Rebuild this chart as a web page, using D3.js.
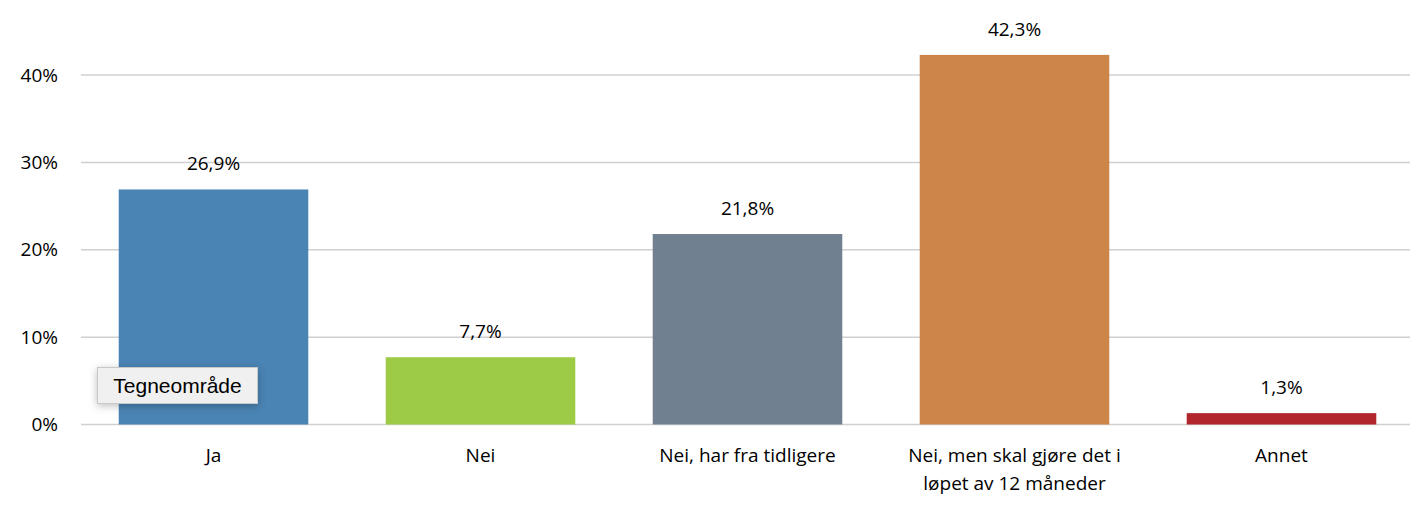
<!DOCTYPE html>
<html lang="no">
<head>
<meta charset="UTF-8">
<title>Svarfordeling</title>
<script src="https://d3js.org/d3.v7.min.js"></script>
<style>
  body { margin: 0; background: #fff; font-family: "Open Sans", "Liberation Sans", Arial, sans-serif; }
  #chart { position: relative; width: 1410px; height: 506px; }
  .tip {
    position: absolute; left: 97px; top: 367px; width: 161px; height: 37px;
    background: #f0f0f0; border: 1px solid #c8c8c8; box-shadow: 0 2px 8px rgba(0,0,0,0.25);
    font-family: "Liberation Sans", Arial, sans-serif; font-size: 21px; color: #000;
    line-height: 35px; text-align: center; box-sizing: border-box;
  }
</style>
</head>
<body>
<div id="chart"></div>
<script>
  // data
  const categories = ["Ja", "Nei", "Nei, har fra tidligere", "Nei, men skal gjøre det i|løpet av 12 måneder", "Annet"];
  const values = [26.9, 7.7, 21.8, 42.3, 1.3];
  const colors = ["#4a84b4", "#9ecb45", "#708090", "#cd8649", "#b0262c"];
  const yTicks = [0, 10, 20, 30, 40];

  const W = 1410, H = 506;
  const x0 = 80, x1 = 1415, yBase = 424.5, yTop = 75;

  const svg = d3.select("#chart").append("svg").attr("width", W).attr("height", H);

  const x = d3.scaleBand().domain(categories).range([x0, x1]).paddingInner(0.29).paddingOuter(0.145);
  const y = d3.scaleLinear().domain([0, 40]).range([yBase, yTop]);

  // gridlines
  svg.append("g").selectAll("line").data(yTicks).join("line")
    .attr("x1", 81).attr("x2", W)
    .attr("y1", d => y(d)).attr("y2", d => y(d))
    .attr("stroke", "#d0d0d0").attr("stroke-width", 1.5);

  // y axis labels
  const yAxis = d3.axisLeft(y).tickValues(yTicks).tickFormat(d => d + "%").tickSize(0).tickPadding(0);
  svg.append("g").attr("transform", "translate(58,0)").call(yAxis)
    .call(g => g.select(".domain").remove())
    .selectAll("text")
    .style("font-family", "'Open Sans', 'Liberation Sans', Arial, sans-serif")
    .style("font-size", "19px").attr("fill", "#000");

  // bars
  svg.append("g").selectAll("rect").data(values).join("rect")
    .attr("x", (d, i) => x(categories[i]))
    .attr("y", d => y(d))
    .attr("width", x.bandwidth())
    .attr("height", d => yBase - y(d))
    .attr("fill", (d, i) => colors[i]);

  // value labels
  svg.append("g").selectAll("text").data(values).join("text")
    .attr("x", (d, i) => x(categories[i]) + x.bandwidth() / 2)
    .attr("y", d => y(d) - 19)
    .attr("text-anchor", "middle")
    .style("font-size", "19px").attr("fill", "#000")
    .text(d => d3.format(".1f")(d).replace(".", ",") + "%");

  // category labels
  const cat = svg.append("g").selectAll("text").data(categories).join("text")
    .attr("x", d => x(d) + x.bandwidth() / 2)
    .attr("y", 462)
    .attr("text-anchor", "middle")
    .style("font-size", "19px").attr("fill", "#000");
  cat.selectAll("tspan").data(d => d.split("|").map(t => ({ t, c: d }))).join("tspan")
    .attr("x", d => x(d.c) + x.bandwidth() / 2)
    .attr("dy", (d, i) => i === 0 ? 0 : 28)
    .text(d => d.t);

  d3.select("#chart").append("div").attr("class", "tip").text("Tegneområde");
</script>
</body>
</html>
